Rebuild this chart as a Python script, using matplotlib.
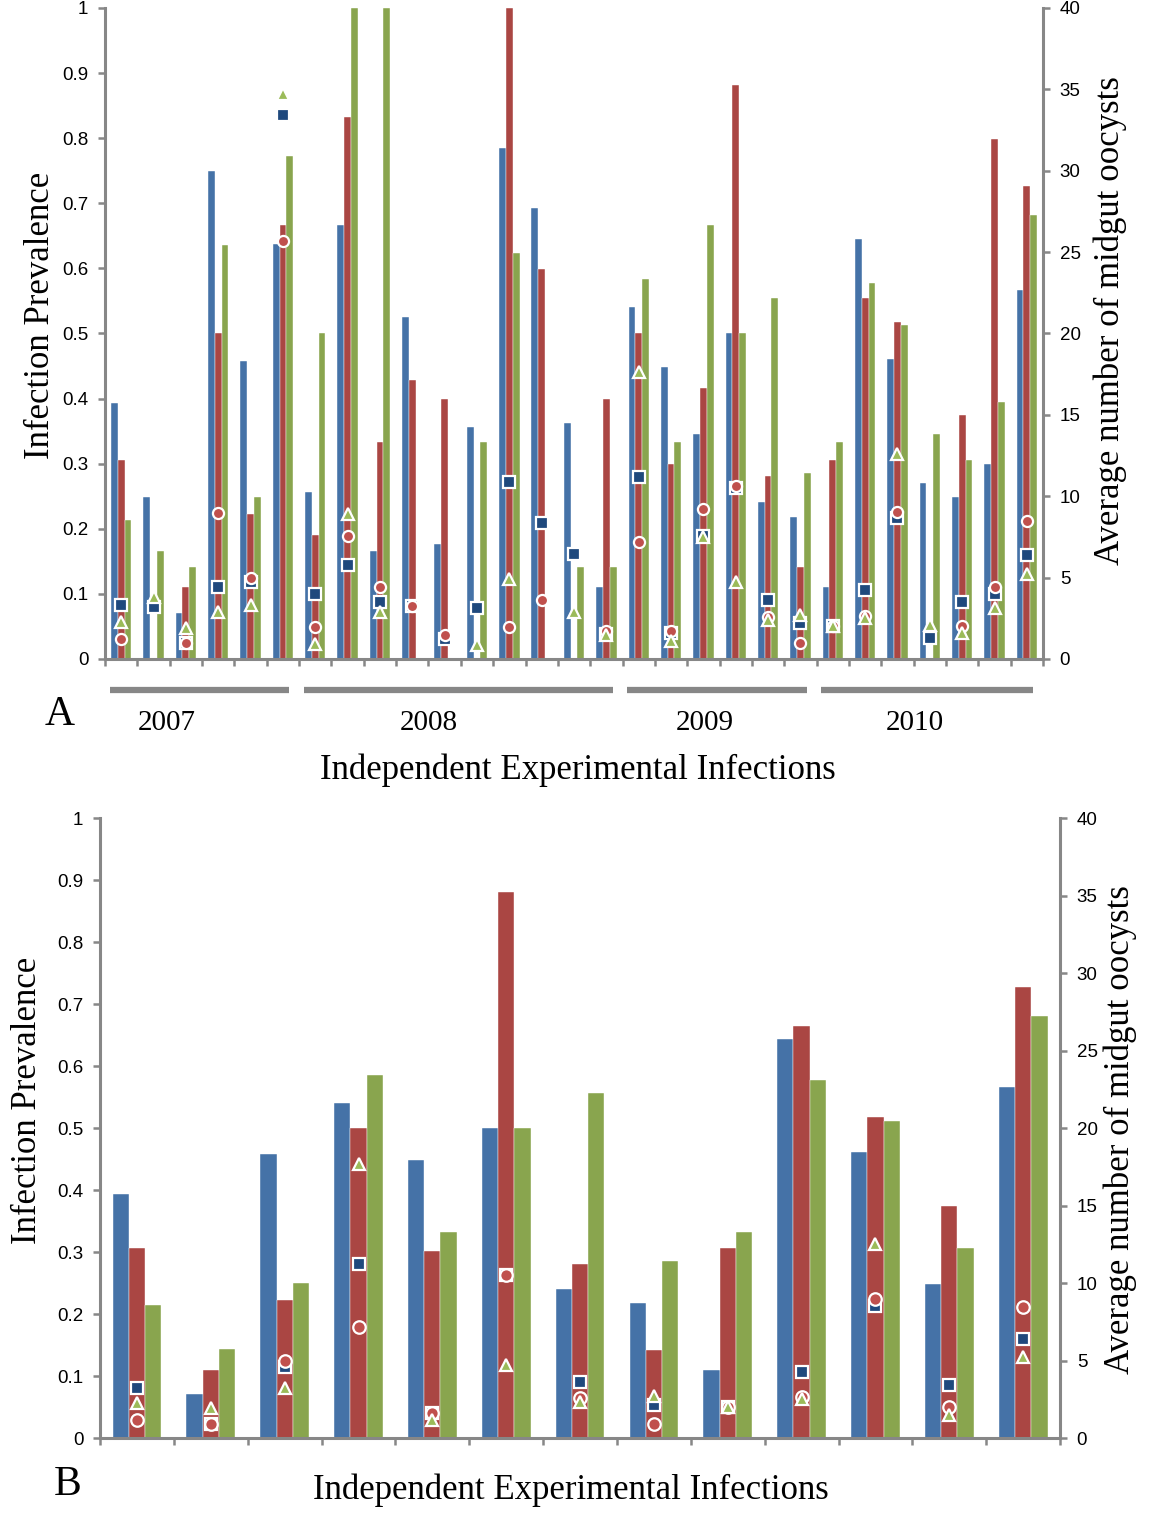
import numpy as np
import matplotlib
matplotlib.use('Agg')
import matplotlib.pyplot as plt
from matplotlib.transforms import blended_transform_factory

# ---- panel A: 29 independent infections ----
a_blue = [0.393, 0.249, 0.070, 0.750, 0.457, 0.637, 0.257, 0.666, 0.166, 0.525,
          0.177, 0.357, 0.785, 0.692, 0.362, 0.110, 0.540, 0.448, 0.346, 0.500,
          0.241, 0.218, 0.110, 0.645, 0.461, 0.271, 0.249, 0.300, 0.566]
a_red = [0.306, 0.0, 0.110, 0.500, 0.223, 0.666, 0.190, 0.833, 0.333, 0.428,
         0.399, 0.0, 1.0, 0.599, 0.0, 0.399, 0.500, 0.300, 0.416, 0.881,
         0.281, 0.142, 0.306, 0.555, 0.518, 0.0, 0.375, 0.799, 0.727]
a_green = [0.214, 0.166, 0.142, 0.636, 0.249, 0.772, 0.500, 1.0, 1.0, 0.0,
           0.0, 0.333, 0.623, 0.0, 0.142, 0.142, 0.583, 0.333, 0.666, 0.500,
           0.555, 0.285, 0.333, 0.578, 0.513, 0.346, 0.306, 0.395, 0.682]
nan = np.nan
a_square = [3.3, 3.2, 0.97, 4.45, 4.7, 33.4, 4.0, 5.8, 3.5, 3.28,
            1.23, 3.15, 10.9, 8.35, 6.45, 1.55, 11.2, 1.6, 7.55, 10.5,
            3.6, 2.2, 2.0, 4.25, 8.65, 1.3, 3.5, 4.0, 6.4]
a_circle = [1.25, nan, 1.0, 8.95, 5.0, 25.7, 1.97, 7.55, 4.45, 3.28,
            1.5, nan, 1.97, 3.6, nan, 1.7, 7.2, 1.7, 9.2, 10.6,
            2.6, 0.97, 2.0, 2.65, 9.0, nan, 2.0, 4.45, 8.5]
a_triangle = [2.3, 3.8, 1.9, 2.9, 3.3, 34.7, 0.92, 8.9, 2.9, nan,
              nan, 0.87, 4.9, nan, 2.9, 1.5, 17.6, 1.1, 7.5, 4.7,
              2.4, 2.7, 2.0, 2.5, 12.6, 2.1, 1.6, 3.15, 5.2]
years = ['2007', '2008', '2009', '2010']
year_counts = [6, 10, 6, 7]

# ---- panel B: 13 selected infections ----
b_blue = [0.394, 0.071, 0.458, 0.541, 0.449, 0.500, 0.240, 0.218, 0.110, 0.643, 0.461, 0.249, 0.566]
b_red = [0.307, 0.110, 0.222, 0.500, 0.301, 0.880, 0.280, 0.142, 0.306, 0.665, 0.517, 0.375, 0.727]
b_green = [0.214, 0.143, 0.250, 0.585, 0.333, 0.500, 0.556, 0.285, 0.332, 0.578, 0.512, 0.306, 0.681]
b_square = [3.23, 0.93, 4.6, 11.2, 1.6, 10.5, 3.62, 2.15, 2.0, 4.26, 8.5, 3.44, 6.4]
b_circle = [1.19, 0.93, 4.96, 7.16, 1.6, 10.5, 2.6, 0.92, 2.0, 2.62, 8.97, 1.98, 8.43]
b_triangle = [2.26, 1.94, 3.2, 17.7, 1.14, 4.68, 2.3, 2.73, 2.0, 2.5, 12.5, 1.5, 5.2]

BLUE, RED, GREEN = '#4572A7', '#AA4643', '#89A54E'
NAVY, MRED, MGREEN = '#1F497D', '#C0504D', '#9BBB59'
GRAY = '#878787'
SERIF = 'Liberation Serif'
SANS = 'Liberation Sans'

fig = plt.figure(figsize=(11.5, 15.18), dpi=100)


def panel(rect, blue, red, green, sq, ci, tr, width, ms):
    ax = fig.add_axes(rect)
    n = len(blue)
    x = np.arange(n)
    ax.bar(x - width, blue, width, color=BLUE, edgecolor='white', linewidth=0.3)
    ax.bar(x, red, width, color=RED, edgecolor='white', linewidth=0.3)
    ax.bar(x + width, green, width, color=GREEN, edgecolor='white', linewidth=0.3)
    ax.set_xlim(-0.5, n - 0.5)
    ax.set_ylim(0, 1)
    ax.set_yticks(np.arange(0, 1.01, 0.1))
    ax.set_yticklabels([f'{v:g}' for v in np.arange(0, 1.01, 0.1).round(1)])
    ax.set_xticks(np.arange(-0.5, n, 1.0))
    ax.set_xticklabels([])
    for s in ['top', 'right']:
        ax.spines[s].set_visible(False)
    for s in ['left', 'bottom']:
        ax.spines[s].set_color(GRAY)
        ax.spines[s].set_linewidth(2.2)
    ax.tick_params(axis='both', direction='out', length=5, width=1.8, color=GRAY,
                   labelsize=13.5, pad=7)
    for lab in ax.get_yticklabels():
        lab.set_family(SANS)

    ax2 = ax.twinx()
    ax2.set_ylim(0, 40)
    ax2.set_yticks(np.arange(0, 41, 5))
    for s in ['top', 'left', 'bottom']:
        ax2.spines[s].set_visible(False)
    ax2.spines['right'].set_color(GRAY)
    ax2.spines['right'].set_linewidth(2.2)
    ax2.tick_params(axis='y', direction='out', length=5, width=1.8, color=GRAY,
                    labelsize=13.5, pad=7)
    for lab in ax2.get_yticklabels():
        lab.set_family(SANS)
    ax2.plot(x, sq, ls='none', marker='s', ms=ms, mfc=NAVY, mec='white', mew=1.6, clip_on=False)
    ax2.plot(x, ci, ls='none', marker='o', ms=ms, mfc=MRED, mec='white', mew=1.6, clip_on=False)
    ax2.plot(x, tr, ls='none', marker='^', ms=ms, mfc=MGREEN, mec='white', mew=1.6, clip_on=False)
    return ax, ax2


axA, axA2 = panel([0.0913, 0.5659, 0.8157, 0.4289], a_blue, a_red, a_green,
                  a_square, a_circle, a_triangle, 0.21, 8)
axB, axB2 = panel([0.0870, 0.0527, 0.8348, 0.4084], b_blue, b_red, b_green,
                  b_square, b_circle, b_triangle, 0.22, 9)

# year bars under panel A
trans = blended_transform_factory(axA.transData, fig.transFigure)
label_shift = [-1.1, -1.0, -0.45, -0.45]
start = -0.5
for yr, cnt, shift in zip(years, year_counts, label_shift):
    end = start + cnt
    axA.plot([start + 0.15, end - 0.3], [0.5455, 0.5455], color=GRAY, lw=4.5,
             transform=trans, clip_on=False, solid_capstyle='butt')
    axA.text((start + end) / 2 + shift, 0.5237, yr, transform=trans, ha='center',
             va='center', fontsize=21, family=SERIF)
    start = end

fig.text(0.0522, 0.529, 'A', fontsize=30, family=SERIF, ha='center', va='center')
fig.text(0.0591, 0.0217, 'B', fontsize=30, family=SERIF, ha='center', va='center')

fig.text(0.5026, 0.4928, 'Independent Experimental Infections', fontsize=25,
         family=SERIF, ha='center', va='center')
fig.text(0.4965, 0.0184, 'Independent Experimental Infections', fontsize=25,
         family=SERIF, ha='center', va='center')

fig.text(0.0348, 0.7925, 'Infection Prevalence', fontsize=25, family=SERIF,
         rotation=90, ha='center', va='center')
fig.text(0.0235, 0.2754, 'Infection Prevalence', fontsize=25, family=SERIF,
         rotation=90, ha='center', va='center')
fig.text(0.9652, 0.789, 'Average number of midgut oocysts', fontsize=25,
         family=SERIF, rotation=90, ha='center', va='center')
fig.text(0.9739, 0.2556, 'Average number of midgut oocysts', fontsize=25,
         family=SERIF, rotation=90, ha='center', va='center')

fig.savefig('out.png', dpi=100)
